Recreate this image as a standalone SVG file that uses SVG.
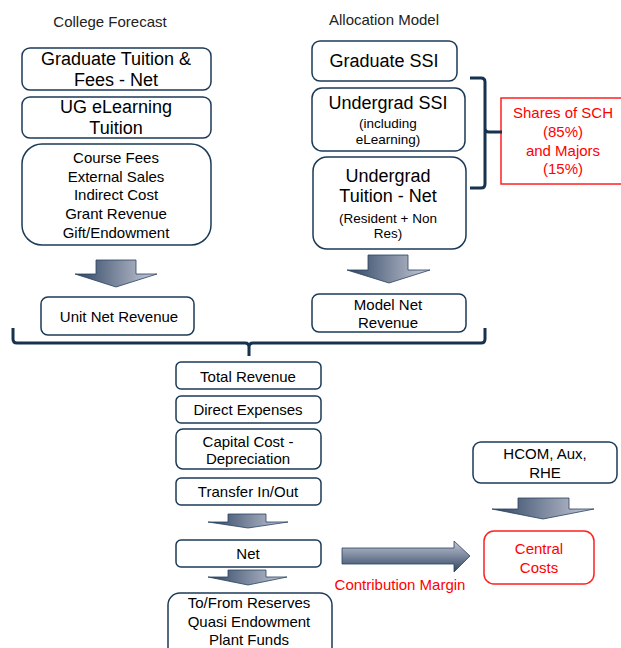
<svg xmlns="http://www.w3.org/2000/svg" width="621" height="648" viewBox="0 0 621 648">
<style>
text{font-family:"Liberation Sans",Arial,sans-serif;text-anchor:middle;fill:#000}
.title{font-size:15px;fill:#222}
.big{font-size:18px}
.mid{font-size:15px}
.sm{font-size:13.5px}
.red{fill:#ff0000}
.box{fill:#fff;stroke:#1b3a57;stroke-width:1.5}
.rbox{fill:#fff;stroke:#ff2020;stroke-width:1.5}
.arr{stroke:#2a4160;stroke-width:0.8}
.brace{fill:none;stroke:#17324f;stroke-width:3;stroke-linejoin:round}
</style>
<defs>
<linearGradient id="gH" x1="0" y1="0" x2="1" y2="0">
<stop offset="0" stop-color="#2e4462"/>
<stop offset="1" stop-color="#c9ccd9"/>
</linearGradient>
<linearGradient id="gV" x1="0" y1="0" x2="0" y2="1">
<stop offset="0" stop-color="#c3c7d5"/>
<stop offset="1" stop-color="#2e4462"/>
</linearGradient>
</defs>

<text class="title" x="110" y="27">College Forecast</text>
<text class="title" x="384" y="25">Allocation Model</text>

<g id="grad-tuition">
<rect class="box" x="22" y="48" width="189" height="42" rx="8"/>
<text class="big" x="116" y="65">Graduate Tuition &amp;</text>
<text class="big" x="116" y="86">Fees - Net</text>
</g>
<g id="ug-elearning">
<rect class="box" x="22" y="97" width="189" height="41" rx="8"/>
<text class="big" x="116" y="113">UG eLearning</text>
<text class="big" x="116" y="134">Tuition</text>
</g>
<g id="course-fees">
<rect class="box" x="22" y="144" width="189" height="101" rx="20"/>
<text class="mid" x="116" y="163">Course Fees</text>
<text class="mid" x="116" y="182">External Sales</text>
<text class="mid" x="116" y="200">Indirect Cost</text>
<text class="mid" x="116" y="219">Grant Revenue</text>
<text class="mid" x="116" y="238">Gift/Endowment</text>
</g>

<g id="grad-ssi">
<rect class="box" x="312" y="41" width="145" height="40" rx="8"/>
<text class="big" x="384" y="67">Graduate SSI</text>
</g>
<g id="ug-ssi">
<rect class="box" x="312" y="88" width="153" height="63" rx="10"/>
<text class="big" x="388" y="109">Undergrad SSI</text>
<text class="sm" x="388" y="128">(including</text>
<text class="sm" x="388" y="144">eLearning)</text>
</g>
<g id="ug-tuition">
<rect class="box" x="313" y="157" width="153" height="92" rx="14"/>
<text class="big" x="388" y="182">Undergrad</text>
<text class="big" x="388" y="202">Tuition - Net</text>
<text class="sm" x="388" y="223">(Resident + Non</text>
<text class="sm" x="388" y="238">Res)</text>
</g>
<g id="shares">
<rect class="rbox" x="501" y="98" width="124" height="86"/>
<text class="mid red" x="563" y="118">Shares of SCH</text>
<text class="mid red" x="563" y="137">(85%)</text>
<text class="mid red" x="563" y="156">and Majors</text>
<text class="mid red" x="563" y="174">(15%)</text>
</g>

<g id="unit-net">
<rect class="box" x="41" y="297" width="153" height="38" rx="7"/>
<text class="mid" x="119" y="322">Unit Net Revenue</text>
</g>
<g id="model-net">
<rect class="box" x="312" y="294" width="154" height="38" rx="7"/>
<text class="mid" x="388" y="310">Model Net</text>
<text class="mid" x="388" y="328">Revenue</text>
</g>

<g id="total-revenue">
<rect class="box" x="176" y="362" width="145" height="27" rx="5"/>
<text class="mid" x="248" y="382">Total Revenue</text>
</g>
<g id="direct-expenses">
<rect class="box" x="176" y="396" width="145" height="27" rx="5"/>
<text class="mid" x="248" y="415">Direct Expenses</text>
</g>
<g id="capital-cost">
<rect class="box" x="176" y="429" width="145" height="40" rx="7"/>
<text class="mid" x="248" y="447">Capital Cost -</text>
<text class="mid" x="248" y="464">Depreciation</text>
</g>
<g id="transfer">
<rect class="box" x="176" y="478" width="145" height="27" rx="5"/>
<text class="mid" x="248" y="497">Transfer In/Out</text>
</g>
<g id="net">
<rect class="box" x="176" y="540" width="145" height="27" rx="5"/>
<text class="mid" x="248" y="559">Net</text>
</g>
<g id="reserves">
<rect class="box" x="168" y="593" width="164" height="70" rx="12"/>
<text class="mid" x="249" y="608">To/From Reserves</text>
<text class="mid" x="249" y="627">Quasi Endowment</text>
<text class="mid" x="249" y="645">Plant Funds</text>
</g>

<g id="hcom">
<rect class="box" x="473" y="442" width="144" height="41" rx="8"/>
<text class="mid" x="545" y="459">HCOM, Aux,</text>
<text class="mid" x="545" y="478">RHE</text>
</g>
<g id="central">
<rect class="rbox" x="484" y="531" width="110" height="53" rx="10"/>
<text class="mid red" x="539" y="554">Central</text>
<text class="mid red" x="539" y="573">Costs</text>
</g>

<g id="connectors">
<path class="brace" d="M470 78 H481 Q485 78 485 82 V184 Q485 188 481 188 H470 M485 128 Q485 132 489 132 H502"/>
<path class="brace" d="M13 328 V339 Q13 343 17 343 H245 Q249 343 249 347 V356 M249 347 Q249 343 253 343 H481 Q485 343 485 339 V328"/>
<polygon class="arr" fill="url(#gH)" points="96,260 136,260 136,274 157,274 116,287 75,274 96,274"/>
<polygon class="arr" fill="url(#gH)" points="368,255 408,255 408,270 430,270 389,283 347,270 368,270"/>
<polygon class="arr" fill="url(#gH)" points="228,514 266,514 266,522 288,522 248,528 208,522 228,522"/>
<polygon class="arr" fill="url(#gH)" points="228,570 266,570 266,577 287,577 248,585 208,577 228,577"/>
<polygon class="arr" fill="url(#gH)" points="518,498 569,498 569,509 594,509 543,519 492,509 518,509"/>
<polygon class="arr" fill="url(#gV)" points="342,548 454,548 454,541 470,556 454,572 454,564 342,564"/>
<text class="mid red" x="400" y="590">Contribution Margin</text>
</g>
</svg>
